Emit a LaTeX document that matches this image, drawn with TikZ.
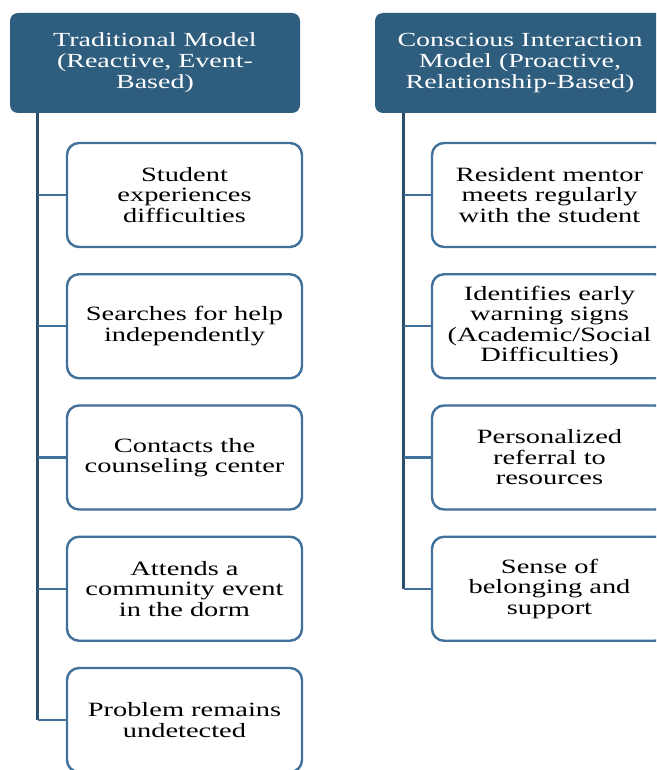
\documentclass[tikz,border=0pt]{standalone}
\usepackage{fontspec}
\setmainfont[FakeStretch=1.4]{Liberation Serif}
\usetikzlibrary{positioning,calc}
\definecolor{headblue}{HTML}{2F5D7E}
\definecolor{edgeblue}{HTML}{41709A}
\definecolor{trunkblue}{HTML}{2C4F6C}

\begin{document}
\begin{tikzpicture}[x=1pt,y=-1pt,
    head/.style={rectangle, rounded corners=8pt, fill=headblue, text=white,
      minimum width=290pt, minimum height=100pt, align=center, inner sep=0pt,
      font=\fontsize{20}{21}\selectfont},
    stepbox/.style={rectangle, rounded corners=12pt, draw=edgeblue, line width=2.4pt,
      fill=white, minimum width=235pt, minimum height=104pt, align=center,
      inner sep=0pt, font=\fontsize{20.3}{20.5}\selectfont},
    trunk/.style={trunkblue, line width=3pt},
    branch/.style={edgeblue, line width=2.4pt}]

  \useasboundingbox (0,0) rectangle (656,770);
  \clip (0,0) rectangle (656,770);

  \def\d{131.25};

  %headers
  \node[head] (hL) at (155,63) {Traditional Model\\(Reactive, Event-\\Based)};
  \node[head] (hR) at (520,63) {Conscious Interaction\\Model (Proactive,\\Relationship-Based)};

  \coordinate (tL) at ($(hL.south west)+(28,0)$);
  \coordinate (tR) at ($(hR.south west)+(29,0)$);

  %traditional steps
  \foreach \i/\txt/\name in {1/{Student\\experiences\\difficulties}/l1,
      2/{Searches for help\\independently}/l2,
      3/{Contacts the\\counseling center}/l3,
      4/{Attends a\\community event\\in the dorm}/l4,
      5/{Problem remains\\undetected}/l5}{
    \node[stepbox] (\name) at (184.5, 195 + \i*\d - \d) {\txt};
  }

  %conscious interaction steps
  \foreach \i/\txt/\name in {1/{Resident mentor\\meets regularly\\with the student}/r1,
      2/{Identifies early\\warning signs\\(Academic/Social\\Difficulties)}/r2,
      3/{Personalized\\referral to\\resources}/r3,
      4/{Sense of\\belonging and\\support}/r4}{
    \node[stepbox] (\name) at (549.5, 195 + \i*\d - \d) {\txt};
  }

  %connectors
  \draw[trunk] (tL) -- (tL |- l5.west);
  \foreach \name in {l1,l2,l3,l4,l5}{
    \draw[branch] (tL |- \name.west) -- (\name.west);
  }
  \draw[trunk] (tR) -- (tR |- r4.west);
  \foreach \name in {r1,r2,r3,r4}{
    \draw[branch] (tR |- \name.west) -- (\name.west);
  }

\end{tikzpicture}
\end{document}
